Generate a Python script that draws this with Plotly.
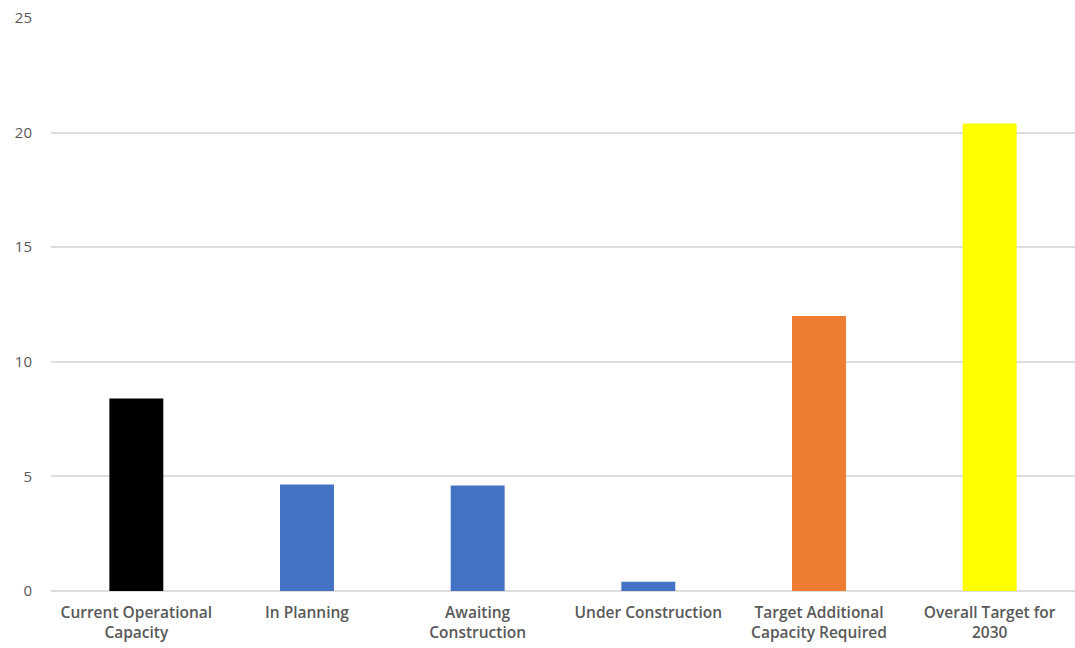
import plotly.graph_objects as go

categories = [
    "Current Operational<br>Capacity",
    "In Planning",
    "Awaiting<br>Construction",
    "Under Construction",
    "Target Additional<br>Capacity Required",
    "Overall Target for<br>2030",
]
values = [8.4, 4.65, 4.6, 0.4, 12.0, 20.4]
colors = ["#000000", "#4472C4", "#4472C4", "#4472C4", "#ED7D31", "#FFFF00"]
y_ticks = [0, 5, 10, 15, 20, 25]

fig = go.Figure(
    go.Bar(x=categories, y=values, marker=dict(color=colors, line=dict(width=0)))
)

fig.update_layout(
    width=1075,
    height=648,
    margin=dict(l=51, r=0, t=18, b=57),
    plot_bgcolor="white",
    paper_bgcolor="white",
    bargap=0.684,
    showlegend=False,
    font=dict(family="Open Sans", color="#595959"),
)
fig.update_xaxes(
    showgrid=False,
    showline=False,
    zeroline=False,
    ticks="",
    tickfont=dict(size=15.5, family="Open Sans", weight=600, color="#595959"),
    ticklabelstandoff=10,
)
fig.update_yaxes(
    range=[0, 25],
    tickvals=y_ticks,
    showgrid=True,
    gridcolor="#DDDDDD",
    gridwidth=1.5,
    zeroline=True,
    zerolinecolor="#DDDDDD",
    zerolinewidth=1.5,
    showline=False,
    ticks="",
    tickfont=dict(size=15, family="Open Sans", color="#595959"),
    ticklabelstandoff=18,
)

fig.write_html("out.html")
